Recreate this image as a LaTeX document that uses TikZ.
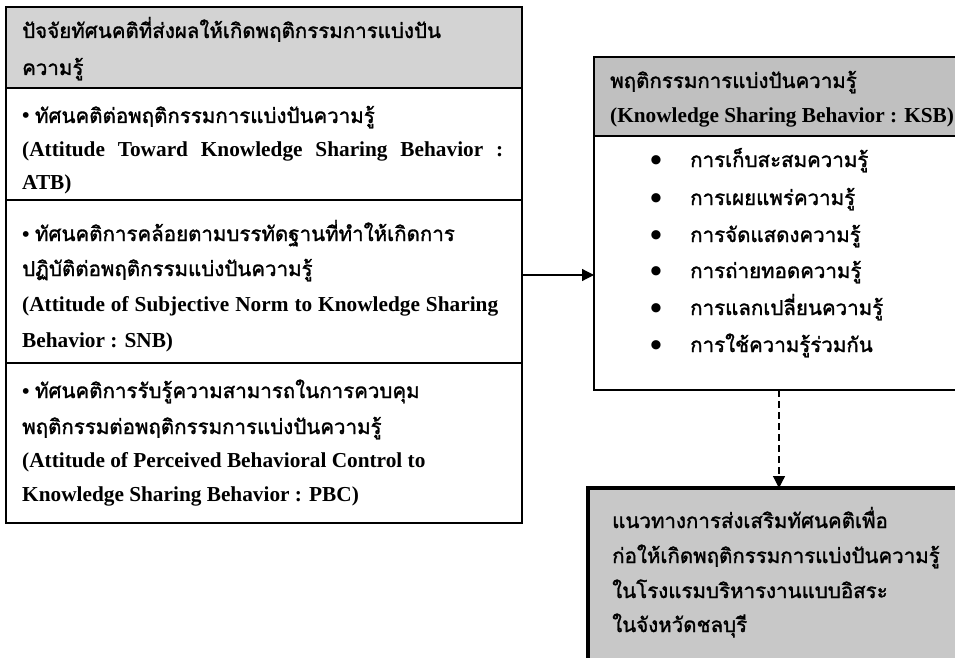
\documentclass[tikz,border=0pt]{standalone}
\usepackage{fontspec}
\setmainfont{Liberation Serif}
\newfontfamily\thaifont[Script=Thai,AutoFakeBold=1.5]{Loma}
\usetikzlibrary{arrows.meta}
\newcommand\tht[1]{{\thaifont\fontsize{20.5}{24}\selectfont #1}}
\definecolor{hdrA}{HTML}{D3D3D3}
\definecolor{hdrB}{HTML}{C0C0C0}
\definecolor{outc}{HTML}{C8C8C8}
\begin{document}
\begin{tikzpicture}[x=1pt,y=-1pt,
  cell/.style={draw=black, line width=1.8pt, anchor=north west, inner sep=0pt, outer sep=0pt},
  txt/.style={anchor=base west, inner sep=0pt, font=\bfseries\fontsize{21.3}{25}\selectfont},
  bul/.style={anchor=base, inner sep=0pt, font=\bfseries\fontsize{34}{34}\selectfont},
  arr/.style={line width=1.2pt, -{Triangle[length=12pt,width=12pt]}}
]
\useasboundingbox (0,0) rectangle (955,658);
\clip (0,0) rectangle (955,658);
% left box
\node[cell, fill=hdrA, minimum width=516pt, minimum height=81pt] (hdr) at (6,7) {};
\node[cell, minimum width=516pt, minimum height=112pt] (r1) at (hdr.south west) {};
\node[cell, minimum width=516pt, minimum height=163pt] (r2) at (r1.south west) {};
\node[cell, minimum width=516pt, minimum height=160pt] (r3) at (r2.south west) {};
% KSB box
\node[cell, fill=hdrB, minimum width=420pt, minimum height=79pt] (ksbh) at (594,57) {};
\node[cell, minimum width=420pt, minimum height=254pt] (ksbb) at (ksbh.south west) {};
% outcome box
\node[cell, line width=3.5pt, fill=outc, minimum width=420pt, minimum height=220pt] (out) at (588,488) {};
% connectors
\coordinate (ain) at (594,275);
\draw[arr] (r2.east |- ain) -- (ain);
\coordinate (dx) at (779,0);
\draw[arr, dash pattern=on 7pt off 4pt] (ksbb.south -| dx) -- (out.north -| dx);
% left texts
\node[txt] (h1) at (22,38) {\tht{ปัจจัยทัศนคติที่ส่งผลให้เกิดพฤติกรรมการแบ่งปัน}};
\node[txt] (h2) at (22,75) {\tht{ความรู้}};
\node[txt] (a1) at (22,123) {• \tht{ทัศนคติต่อพฤติกรรมการแบ่งปันความรู้}};
\node[txt] (a2) at (22,156) {\makebox[481pt][s]{(Attitude Toward Knowledge Sharing Behavior :}};
\node[txt] (a3) at (22,189) {ATB)};
\node[txt] (b1) at (22,241) {• \tht{ทัศนคติการคล้อยตามบรรทัดฐานที่ทำให้เกิดการ}};
\node[txt] (b2) at (22,276) {\tht{ปฏิบัติต่อพฤติกรรมแบ่งปันความรู้}};
\node[txt] (b3) at (22,311) {\makebox[476pt][s]{(Attitude of Subjective Norm to Knowledge Sharing}};
\node[txt] (b4) at (22,347) {Behavior : SNB)};
\node[txt] (c1) at (22,398) {• \tht{ทัศนคติการรับรู้ความสามารถในการควบคุม}};
\node[txt] (c2) at (22,434) {\tht{พฤติกรรมต่อพฤติกรรมการแบ่งปันความรู้}};
\node[txt] (c3) at (22,467) {(Attitude of Perceived Behavioral Control to};
\node[txt] (c4) at (22,501) {Knowledge Sharing Behavior : PBC)};
% KSB texts
\node[txt] (k1) at (610,88) {\tht{พฤติกรรมการแบ่งปันความรู้}};
\node[txt] (k2) at (610,123) {(Knowledge Sharing Behavior : KSB)};
\node[bul] (p1) at (656,171) {•};
\node[bul] (p2) at (656,209) {•};
\node[bul] (p3) at (656,246) {•};
\node[bul] (p4) at (656,282) {•};
\node[bul] (p5) at (656,319) {•};
\node[bul] (p6) at (656,356) {•};
\node[txt] (l1) at (690,167) {\tht{การเก็บสะสมความรู้}};
\node[txt] (l2) at (690,205) {\tht{การเผยแพร่ความรู้}};
\node[txt] (l3) at (690,242) {\tht{การจัดแสดงความรู้}};
\node[txt] (l4) at (690,278) {\tht{การถ่ายทอดความรู้}};
\node[txt] (l5) at (690,315) {\tht{การแลกเปลี่ยนความรู้}};
\node[txt] (l6) at (690,352) {\tht{การใช้ความรู้ร่วมกัน}};
% outcome texts
\node[txt] (o1) at (612,528) {\tht{แนวทางการส่งเสริมทัศนคติเพื่อ}};
\node[txt] (o2) at (612,563) {\tht{ก่อให้เกิดพฤติกรรมการแบ่งปันความรู้}};
\node[txt] (o3) at (612,598) {\tht{ในโรงแรมบริหารงานแบบอิสระ}};
\node[txt] (o4) at (612,632) {\tht{ในจังหวัดชลบุรี}};
\end{tikzpicture}
\end{document}
